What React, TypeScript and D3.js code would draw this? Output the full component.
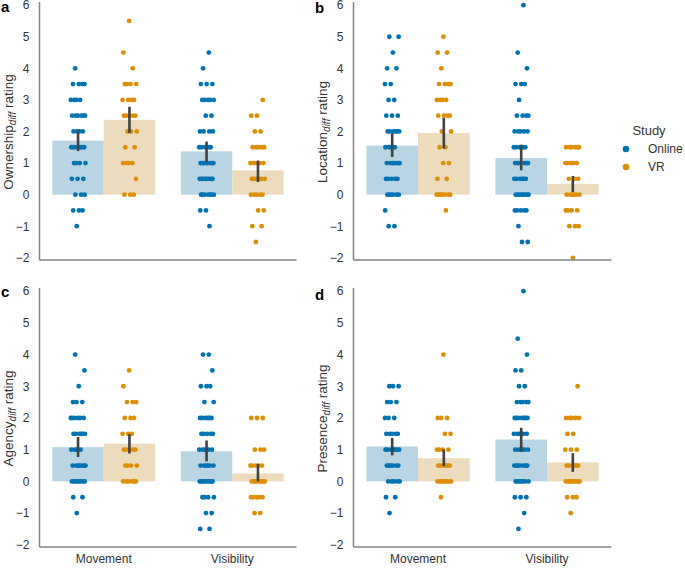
import React from "react";
import * as d3 from "d3";

const categories = ["Movement", "Visibility"];
const studies = ["Online", "VR"];
const yTicks = [-2, -1, 0, 1, 2, 3, 4, 5, 6];

// Panel a: Ownership
const aMovementOnline = [4, 3.5, 3.5, 3.5, 3.5, 3, 3, 3, 3, 2.5, 2.5, 2.5, 2.5, 2.5, 2.5, 2, 2, 2, 2, 1.5, 1.5, 1.5, 1.5, 1.5, 1.5, 1.5, 1, 1, 1, 1, 0.5, 0.5, 0.5, 0, 0, 0, -0.5, -0.5, -0.5, -1];
const aMovementVR = [5.5, 4.5, 4, 3.5, 3.5, 3.5, 3.5, 3, 3, 3, 3, 2.5, 2.5, 2.5, 2.5, 2.5, 2, 2, 2, 1.5, 1.5, 1, 1, 1, 1, 0.5, 0, 0, 0];
const aVisibilityOnline = [4.5, 4, 3.5, 3.5, 3.5, 3, 3, 3, 3, 3, 2.5, 2.5, 2, 2, 2, 2, 1.5, 1.5, 1.5, 1.5, 1.5, 1.5, 1, 1, 1, 1, 1, 1, 1, 1, 0.5, 0.5, 0.5, 0.5, 0.5, 0.5, 0.5, 0.5, 0, 0, 0, 0, 0, 0, 0, -0.5, -0.5, -1];
const aVisibilityVR = [3, 2.5, 2.5, 2, 2, 1.5, 1.5, 1.5, 1.5, 1.5, 1, 1, 1, 1, 1, 0.5, 0.5, 0.5, 0.5, 0.5, 0.5, 0, 0, 0, 0, 0, -0.5, -0.5, -1, -1, -1.5];
const aMeans = [1.71, 2.37, 1.37, 0.77];
const aCiLow = [1.38, 1.95, 1.03, 0.4];
const aCiHigh = [2.04, 2.78, 1.68, 1.08];

// Panel b: Location
const bMovementOnline = [5, 5, 4.5, 4, 4, 3.5, 3.5, 3, 3, 2.5, 2.5, 2.5, 2, 2, 2, 2, 2, 2, 1.5, 1.5, 1.5, 1.5, 1, 1, 1, 1, 1, 1, 1, 0.5, 0.5, 0.5, 0.5, 0.5, 0, 0, 0, 0, 0, 0, -0.5, -1, -1];
const bMovementVR = [5, 4.5, 4.5, 4, 3.5, 3.5, 3.5, 3.5, 3, 3, 3, 3, 2.5, 2.5, 2.5, 2.5, 2, 2, 1.5, 1.5, 1, 1, 0.5, 0.5, 0, 0, 0, 0, 0, 0, 0, -0.5];
const bVisibilityOnline = [6, 4.5, 4, 3.5, 3.5, 3.5, 3, 2.5, 2.5, 2.5, 2.5, 2, 2, 2, 2, 2, 1.5, 1.5, 1.5, 1.5, 1.5, 1.5, 1, 1, 1, 1, 1, 1, 1, 0.5, 0.5, 0.5, 0.5, 0.5, 0.5, 0, 0, 0, 0, 0, 0, 0, 0, -0.5, -0.5, -0.5, -0.5, -0.5, -1, -1.5, -1.5];
const bVisibilityVR = [1.5, 1.5, 1.5, 1.5, 1.5, 1.5, 1, 1, 1, 1, 1, 0.5, 0.5, 0.5, 0, 0, 0, 0, 0, 0, -0.5, -0.5, -0.5, -0.5, -1, -1, -1, -2];
const bMeans = [1.55, 1.95, 1.16, 0.34];
const bCiLow = [1.19, 1.46, 0.77, 0.08];
const bCiHigh = [1.95, 2.43, 1.58, 0.59];

// Panel c: Agency
const cMovementOnline = [4, 3.5, 3, 2.5, 2.5, 2.5, 2, 2, 2, 2, 2, 2, 1.5, 1.5, 1.5, 1.5, 1.5, 1.5, 1, 1, 1, 1, 0.5, 0.5, 0.5, 0.5, 0.5, 0.5, 0.5, 0, 0, 0, 0, 0, 0, 0, 0, -0.5, -0.5, -1];
const cMovementVR = [3.5, 3, 2.5, 2.5, 2.5, 2, 2, 2, 1.5, 1.5, 1.5, 1, 1, 1, 1, 1, 0.5, 0.5, 0.5, 0.5, 0, 0, 0, 0, 0, 0];
const cVisibilityOnline = [4, 4, 3.5, 3, 3, 3, 2.5, 2.5, 2, 2, 2, 2, 2, 2, 1.5, 1.5, 1.5, 1.5, 1.5, 1, 1, 1, 1, 1, 0.5, 0.5, 0.5, 0.5, 0.5, 0.5, 0, 0, 0, 0, 0, 0, 0, 0, 0, 0, -0.5, -0.5, -0.5, -0.5, -1, -1, -1.5, -1.5];
const cVisibilityVR = [2, 2, 2, 1, 1, 1, 0.5, 0.5, 0.5, 0.5, 0.5, 0, 0, 0, 0, 0, 0, 0, 0, -0.5, -0.5, -0.5, -0.5, -0.5, -1, -1];
const cMeans = [1.08, 1.19, 0.95, 0.25];
const cCiLow = [0.77, 0.88, 0.63, 0.0];
const cCiHigh = [1.4, 1.49, 1.29, 0.55];

// Panel d: Presence
const dMovementOnline = [3, 3, 3, 2.5, 2.5, 2.5, 2, 2, 2, 1.5, 1.5, 1.5, 1.5, 1.5, 1, 1, 1, 1, 1, 1, 1, 0.5, 0.5, 0.5, 0.5, 0.5, 0.5, 0, 0, 0, 0, 0, -0.5, -0.5, -1];
const dMovementVR = [4, 2, 2, 2, 1.5, 1.5, 1, 1, 1, 1, 0.5, 0.5, 0.5, 0.5, 0.5, 0.5, 0, 0, 0, 0, 0, 0, 0, 0, -0.5];
const dVisibilityOnline = [6, 4.5, 4, 3.5, 3.5, 3, 3, 2.5, 2.5, 2.5, 2.5, 2.5, 2, 2, 2, 2, 2, 2, 2, 1.5, 1.5, 1.5, 1.5, 1.5, 1, 1, 1, 1, 1, 1, 0.5, 0.5, 0.5, 0.5, 0.5, 0.5, 0.5, 0, 0, 0, 0, 0, 0, 0, -0.5, -0.5, -0.5, -1, -1.5];
const dVisibilityVR = [3, 2, 2, 2, 2, 2, 1.5, 1.5, 1, 1, 1, 0.5, 0.5, 0.5, 0.5, 0.5, 0.5, 0, 0, 0, 0, 0, 0, 0, 0, 0, 0, -0.5, -0.5, -0.5, -1];
const dMeans = [1.1, 0.73, 1.32, 0.6];
const dCiLow = [0.82, 0.48, 0.95, 0.3];
const dCiHigh = [1.37, 1.01, 1.69, 0.89];

const panels = [
  { letter: "a", measure: "Ownership", points: [aMovementOnline, aMovementVR, aVisibilityOnline, aVisibilityVR], means: aMeans, lo: aCiLow, hi: aCiHigh },
  { letter: "b", measure: "Location", points: [bMovementOnline, bMovementVR, bVisibilityOnline, bVisibilityVR], means: bMeans, lo: bCiLow, hi: bCiHigh },
  { letter: "c", measure: "Agency", points: [cMovementOnline, cMovementVR, cVisibilityOnline, cVisibilityVR], means: cMeans, lo: cCiLow, hi: cCiHigh },
  { letter: "d", measure: "Presence", points: [dMovementOnline, dMovementVR, dVisibilityOnline, dVisibilityVR], means: dMeans, lo: dCiLow, hi: dCiHigh },
];

const layout = [
  { x0: 39.5, x1: 296.5, top: 2, bottom: 260, labelX: 8, letterX: 1, letterY: 12 },
  { x0: 353.5, x1: 611.5, top: 2, bottom: 260, labelX: 322, letterX: 315, letterY: 13 },
  { x0: 39.5, x1: 296.5, top: 288, bottom: 547, labelX: 8, letterX: 1, letterY: 297 },
  { x0: 353.5, x1: 611.5, top: 288, bottom: 547, labelX: 322, letterX: 315, letterY: 300 },
];

const pointColors = ["#0173b2", "#de8f05"];
const barColors = ["#b9d4e2", "#ecdcbd"];
const font = "'Liberation Sans', Arial, sans-serif";
const textColor = "#333333";
const fmt = (v: number) => (v < 0 ? "\u2212" + Math.abs(v) : String(v));

function Panel({ p, l, showX }: any) {
  const x = d3.scaleBand().domain(categories).range([l.x0, l.x1]).paddingInner(0).paddingOuter(0);
  const inner = d3.scaleBand().domain(studies).range([0, x.bandwidth() * 0.8]);
  const y = d3.scaleLinear().domain([-2.07, 6.1]).range([l.bottom, l.top]);
  const groupStart = (c: string) => (x(c) as number) + x.bandwidth() * 0.1;
  const items: any[] = [];
  categories.forEach((c, ci) => {
    studies.forEach((s, si) => {
      const k = ci * 2 + si;
      const bx = groupStart(c) + (inner(s) as number);
      items.push({ k, si, bx, bw: inner.bandwidth(), cx: bx + inner.bandwidth() / 2 });
    });
  });
  return (
    <g>
      {items.map((it) => (
        <rect key={"b" + it.k} x={it.bx} width={it.bw} y={y(Math.max(0, p.means[it.k]))} height={Math.abs(y(p.means[it.k]) - y(0))} fill={barColors[it.si]} />
      ))}
      {items.map((it) =>
        p.points[it.k].map((v: number, i: number) => {
          const j = (((i * 0.618034 + 0.31 + it.k * 0.17) % 1) - 0.5) * 15;
          return <circle key={"p" + it.k + "_" + i} cx={it.cx + j} cy={y(v)} r={2.4} fill={pointColors[it.si]} />;
        })
      )}
      {items.map((it) => (
        <line key={"e" + it.k} x1={it.cx} x2={it.cx} y1={y(p.lo[it.k])} y2={y(p.hi[it.k])} stroke="#424242" strokeWidth={2.6} />
      ))}
      <line x1={l.x0} x2={l.x0} y1={l.top} y2={l.bottom} stroke="#858585" strokeWidth={1.5} />
      <line x1={l.x0} x2={l.x1} y1={l.bottom} y2={l.bottom} stroke="#858585" strokeWidth={1.5} />
      {yTicks.map((t) => (
        <text key={"t" + t} x={l.x0 - 10} y={y(t)} dy="0.36em" textAnchor="end" fontSize={12} fill={textColor} fontFamily={font}>
          {fmt(t)}
        </text>
      ))}
      {showX &&
        categories.map((c) => (
          <text key={"x" + c} x={(x(c) as number) + x.bandwidth() / 2} y={l.bottom + 16} textAnchor="middle" fontSize={12} fill={textColor} fontFamily={font}>
            {c}
          </text>
        ))}
      <text transform={`translate(${l.labelX},${(l.top + l.bottom) / 2 + 1}) rotate(-90)`} dy="0.35em" textAnchor="middle" fontSize={13.5} fill={textColor} fontFamily={font}>
        {p.measure}
        <tspan fontStyle="italic" fontSize={10} dy="3">diff</tspan>
        <tspan dy="-3"> rating</tspan>
      </text>
      <text x={l.letterX} y={l.letterY} fontSize={15} fontWeight="bold" fill="#000" fontFamily={font}>
        {p.letter}
      </text>
    </g>
  );
}

export default function App() {
  return (
    <div style={{ position: "absolute", left: 0, top: 0 }}>
      <svg width={685} height={568} style={{ display: "block", background: "#fff" }}>
        {panels.map((p, i) => (
          <Panel key={p.letter} p={p} l={layout[i]} showX={i >= 2} />
        ))}
        <text x={649} y={135} textAnchor="middle" fontSize={13} fill={textColor} fontFamily={font}>Study</text>
        {studies.map((s, i) => (
          <g key={s}>
            <circle cx={626} cy={149 + i * 18} r={3.3} fill={pointColors[i]} />
            <text x={648} y={149 + i * 18} dy="0.35em" fontSize={12} fill={textColor} fontFamily={font}>{s}</text>
          </g>
        ))}
      </svg>
    </div>
  );
}
